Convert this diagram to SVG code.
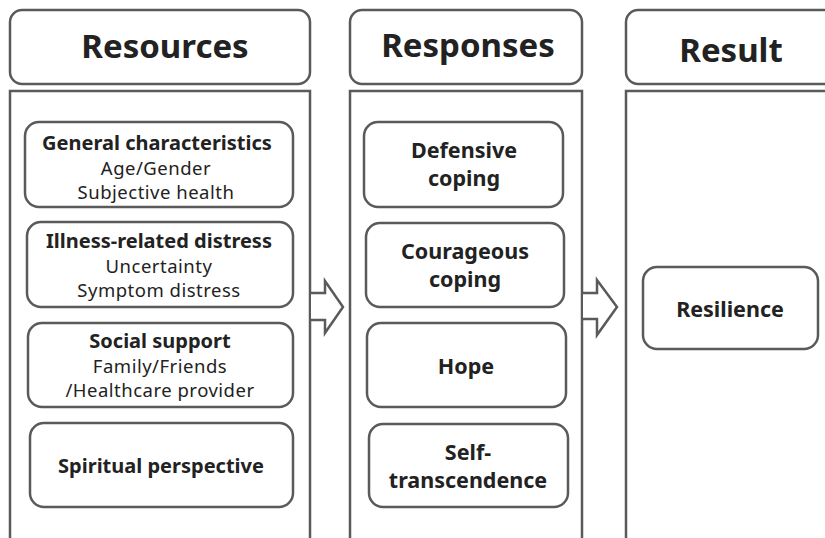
<svg xmlns="http://www.w3.org/2000/svg" width="825" height="538" viewBox="0 0 825 538">
  <style>
    .box { fill: #ffffff; stroke: #5a5a5a; stroke-width: 2.5; }
    .panel { fill: #ffffff; stroke: #5a5a5a; stroke-width: 2.5; }
    .arrow { fill: #ffffff; stroke: #5a5a5a; stroke-width: 2.5; stroke-linejoin: miter; }
    text { font-family: "Noto Sans", "Open Sans", sans-serif; fill: #222222; text-anchor: middle; }
    .head { font-size: 33px; font-weight: bold; }
    .title { font-size: 20px; font-weight: bold; }
    .item { font-size: 18.5px; letter-spacing: 0.5px; }
    .resp { font-size: 21.5px; font-weight: bold; }
  </style>

  <!-- Column: Resources -->
  <g id="resources-header">
    <rect class="box" x="10" y="10" width="300" height="74" rx="12"/>
    <text class="head" x="165" y="58">Resources</text>
  </g>
  <g id="resources-panel">
    <rect class="panel" x="10" y="91" width="300" height="470"/>
  </g>
  <g id="general-characteristics">
    <rect class="box" x="25" y="122" width="268" height="85" rx="14"/>
    <text class="title" x="157" y="150">General characteristics</text>
    <text class="item" x="156" y="175">Age/Gender</text>
    <text class="item" x="156" y="199">Subjective health</text>
  </g>
  <g id="illness-related-distress">
    <rect class="box" x="27" y="222" width="266" height="85" rx="14"/>
    <text class="title" x="159" y="248">Illness-related distress</text>
    <text class="item" x="159" y="273">Uncertainty</text>
    <text class="item" x="159" y="297">Symptom distress</text>
  </g>
  <g id="social-support">
    <rect class="box" x="28" y="323" width="265" height="84" rx="14"/>
    <text class="title" x="160" y="348">Social support</text>
    <text class="item" x="160" y="373">Family/Friends</text>
    <text class="item" x="160" y="397">/Healthcare provider</text>
  </g>
  <g id="spiritual-perspective">
    <rect class="box" x="30" y="423" width="263" height="84" rx="14"/>
    <text class="title" x="161" y="473">Spiritual perspective</text>
  </g>

  <!-- Column: Responses -->
  <g id="responses-header">
    <rect class="box" x="350" y="10" width="232" height="74" rx="12"/>
    <text class="head" x="468" y="57">Responses</text>
  </g>
  <g id="responses-panel">
    <rect class="panel" x="350" y="91" width="232" height="470"/>
  </g>
  <g id="defensive-coping">
    <rect class="box" x="364" y="122" width="199" height="85" rx="14"/>
    <text class="resp" x="464" y="158">Defensive</text>
    <text class="resp" x="464" y="186">coping</text>
  </g>
  <g id="courageous-coping">
    <rect class="box" x="366" y="223" width="198" height="84" rx="14"/>
    <text class="resp" x="465" y="259">Courageous</text>
    <text class="resp" x="465" y="287">coping</text>
  </g>
  <g id="hope">
    <rect class="box" x="367" y="323" width="199" height="84" rx="14"/>
    <text class="resp" x="466" y="374">Hope</text>
  </g>
  <g id="self-transcendence">
    <rect class="box" x="369" y="424" width="199" height="83" rx="14"/>
    <text class="resp" x="468" y="460">Self-</text>
    <text class="resp" x="468" y="488">transcendence</text>
  </g>

  <!-- Column: Result -->
  <g id="result-header">
    <rect class="box" x="626" y="10" width="230" height="74" rx="12"/>
    <text class="head" x="731" y="62">Result</text>
  </g>
  <g id="result-panel">
    <rect class="panel" x="626" y="91" width="230" height="470"/>
  </g>
  <g id="resilience">
    <rect class="box" x="643" y="267" width="175" height="82" rx="14"/>
    <text class="resp" x="730" y="317">Resilience</text>
  </g>

  <!-- Block arrows between columns -->
  <g id="connectors">
    <path class="arrow" d="M311,293 L325,293 L325,281 L343,307 L325,333 L325,320 L311,320"/>
    <path class="arrow" d="M583,293 L597,293 L597,280 L617,307 L597,335 L597,319 L583,319"/>
  </g>
</svg>
